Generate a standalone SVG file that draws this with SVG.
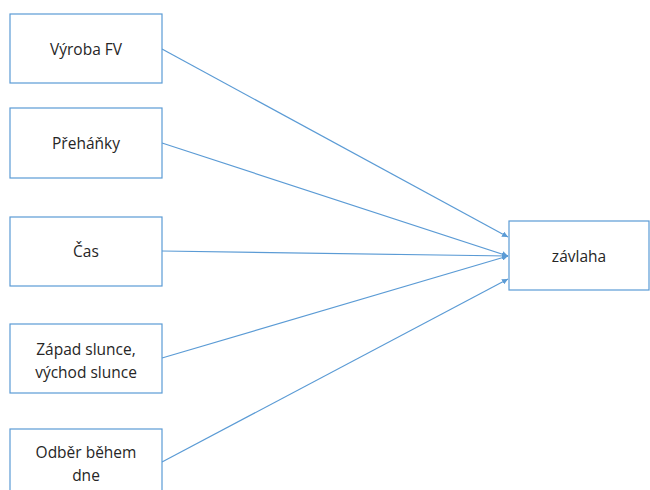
<svg xmlns="http://www.w3.org/2000/svg" width="650" height="490" viewBox="0 0 650 490">
<style>
.box{fill:#fff;stroke:#5B9BD5;stroke-width:1.2}
.t{font-family:"Open Sans","Liberation Sans",sans-serif;font-size:15.5px;fill:#262626;text-anchor:middle}
.c{stroke:#5B9BD5;stroke-width:1.2;fill:none;marker-end:url(#ah)}
</style>
<defs>
<marker id="ah" viewBox="0 0 10 10" refX="10" refY="5" markerWidth="6" markerHeight="6" markerUnits="userSpaceOnUse" orient="auto">
<path d="M0,0 L10,5 L0,10 z" fill="#5B9BD5"/>
</marker>
</defs>
<rect width="650" height="490" fill="#fff"/>
<g id="connectors">
<line class="c" x1="162" y1="49" x2="508" y2="237"/>
<line class="c" x1="162" y1="143" x2="508" y2="256"/>
<line class="c" x1="162" y1="251" x2="508" y2="256"/>
<line class="c" x1="162" y1="358" x2="508" y2="256"/>
<line class="c" x1="162" y1="462" x2="508" y2="279"/>
</g>
<g id="n1"><rect class="box" x="10" y="14" width="152" height="69"/><text class="t" x="86" y="55">Výroba FV</text></g>
<g id="n2"><rect class="box" x="10" y="108" width="152" height="70"/><text class="t" x="86" y="149">Přeháňky</text></g>
<g id="n3"><rect class="box" x="10" y="217" width="152" height="69"/><text class="t" x="86" y="257">Čas</text></g>
<g id="n4"><rect class="box" x="10" y="324" width="152" height="69"/><text class="t" x="86" y="355">Západ slunce,</text><text class="t" x="86" y="378">východ slunce</text></g>
<g id="n5"><rect class="box" x="10" y="429" width="152" height="69"/><text class="t" x="86" y="458">Odběr během</text><text class="t" x="86" y="481">dne</text></g>
<g id="n6"><rect class="box" x="509" y="221" width="140" height="69"/><text class="t" x="579" y="262">závlaha</text></g>
</svg>
